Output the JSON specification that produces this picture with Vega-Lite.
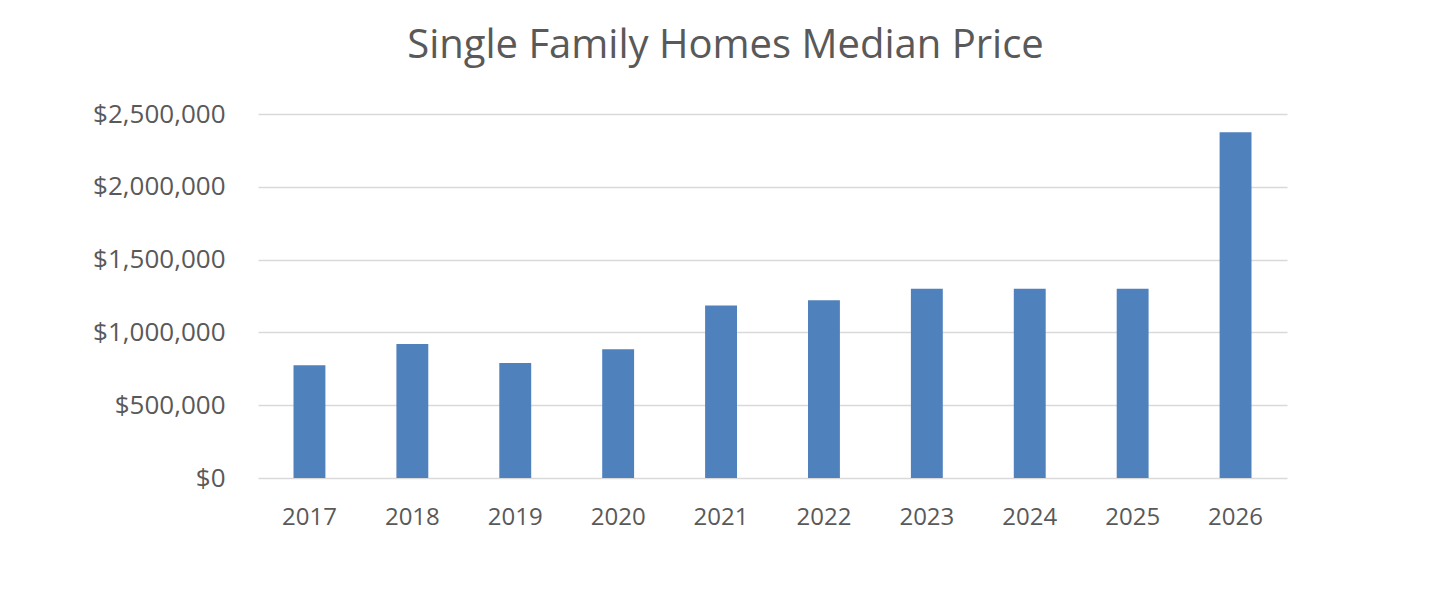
{
  "$schema": "https://vega.github.io/schema/vega-lite/v6.json",
  "width": 1029,
  "height": 364,
  "autosize": {"type": "none"},
  "padding": {"left": 258, "top": 114, "right": 163, "bottom": 124},
  "background": "white",
  "title": {
    "text": "Single Family Homes Median Price",
    "font": "Open Sans",
    "fontSize": 40,
    "fontWeight": "normal",
    "color": "#595959",
    "anchor": "middle",
    "dx": -47,
    "baseline": "alphabetic",
    "offset": 3
  },
  "data": {
    "values": [
      {"year": "2017", "price": 775000},
      {"year": "2018", "price": 920000},
      {"year": "2019", "price": 790000},
      {"year": "2020", "price": 885000},
      {"year": "2021", "price": 1185000},
      {"year": "2022", "price": 1220000},
      {"year": "2023", "price": 1300000},
      {"year": "2024", "price": 1300000},
      {"year": "2025", "price": 1300000},
      {"year": "2026", "price": 2375000}
    ]
  },
  "mark": {"type": "bar", "color": "#4F81BD"},
  "encoding": {
    "x": {
      "field": "year",
      "type": "ordinal",
      "scale": {"paddingInner": 0.69, "paddingOuter": 0.345},
      "axis": {
        "title": null,
        "labelAngle": 0,
        "labelFont": "Open Sans",
        "labelFontSize": 24,
        "labelColor": "#595959",
        "labelPadding": 27,
        "ticks": false,
        "domain": false
      }
    },
    "y": {
      "field": "price",
      "type": "quantitative",
      "scale": {"domain": [0, 2500000], "nice": false},
      "axis": {
        "title": null,
        "values": [0, 500000, 1000000, 1500000, 2000000, 2500000],
        "format": "$,.0f",
        "labelFont": "Open Sans",
        "labelFontSize": 26,
        "labelColor": "#595959",
        "labelPadding": 33,
        "ticks": false,
        "domain": false,
        "gridColor": "#d9d9d9",
        "gridWidth": 1.5
      }
    }
  },
  "config": {"view": {"stroke": null}}
}
